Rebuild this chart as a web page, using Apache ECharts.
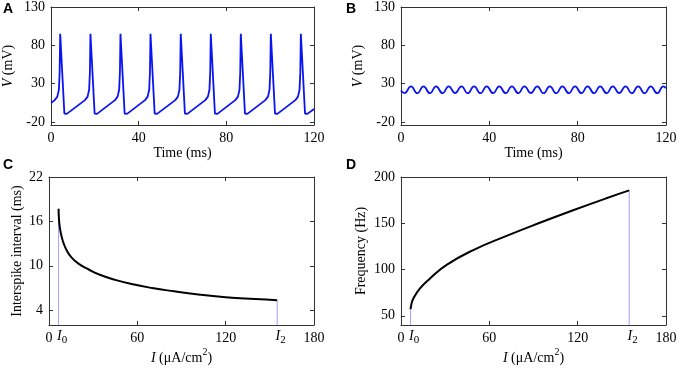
<!DOCTYPE html>
<html>
<head>
<meta charset="utf-8">
<script src="https://cdn.jsdelivr.net/npm/echarts@6/dist/echarts.min.js"></script>
<style>
  html, body { margin: 0; padding: 0; background: #fff; }
  #chart { width: 680px; height: 369px; }
</style>
</head>
<body>
<div id="chart"></div>
<script>
// ====== A: repetitive spiking, [time (ms), V (mV)] ======
const spikeTrace = [
  [0, 4.7], [1.7, 8.5], [2.9, 13], [3.6, 22], [3.95, 45], [4.2, 95], [6.1, -9], [6.6, -10], [7.2, -9.5],
  [15.5, 8.5], [16.7, 13], [17.4, 22], [17.75, 45], [18.0, 95], [19.9, -9], [20.4, -10], [21.0, -9.5],
  [29.2, 8.5], [30.4, 13], [31.1, 22], [31.45, 45], [31.7, 95], [33.6, -9], [34.1, -10], [34.7, -9.5],
  [42.9, 8.5], [44.1, 13], [44.8, 22], [45.15, 45], [45.4, 95], [47.3, -9], [47.8, -10], [48.4, -9.5],
  [56.7, 8.5], [57.9, 13], [58.6, 22], [58.95, 45], [59.2, 95], [61.1, -9], [61.6, -10], [62.2, -9.5],
  [70.4, 8.5], [71.6, 13], [72.3, 22], [72.65, 45], [72.9, 95], [74.8, -9], [75.3, -10], [75.9, -9.5],
  [84.1, 8.5], [85.3, 13], [86.0, 22], [86.35, 45], [86.6, 95], [88.5, -9], [89.0, -10], [89.6, -9.5],
  [97.8, 8.5], [99.0, 13], [99.7, 22], [100.05, 45], [100.3, 95], [102.2, -9], [102.7, -10], [103.3, -9.5],
  [111.5, 8.5], [112.7, 13], [113.4, 22], [113.75, 45], [114.0, 95], [115.9, -9], [116.4, -10], [117.0, -9.5],
  [120, -3]
];

// ====== B: small subthreshold oscillation (peaks / troughs) ======
const oscTrace = [
  [0, 21], [1.6, 17.5], [4.5, 26.5], [7.4, 17.5], [10.2, 26.5], [13.1, 17.5], [15.9, 26.5],
  [18.8, 17.5], [21.6, 26.5], [24.5, 17.5], [27.4, 26.5], [30.2, 17.5], [33.1, 26.5],
  [36.0, 17.5], [38.8, 26.5], [41.7, 17.5], [44.5, 26.5], [47.4, 17.5], [50.2, 26.5],
  [53.1, 17.5], [55.9, 26.5], [58.8, 17.5], [61.7, 26.5], [64.5, 17.5], [67.4, 26.5],
  [70.3, 17.5], [73.1, 26.5], [76.0, 17.5], [78.8, 26.5], [81.7, 17.5], [84.5, 26.5],
  [87.4, 17.5], [90.2, 26.5], [93.1, 17.5], [95.9, 26.5], [98.8, 17.5], [101.7, 26.5],
  [104.5, 17.5], [107.4, 26.5], [110.3, 17.5], [113.1, 26.5], [116.0, 17.5], [118.8, 26.5],
  [120, 24]
];

// ====== C: interspike interval vs current ======
const isiCurrent = [6.5, 6.8, 7.5, 8.5, 10, 12, 15, 20, 27, 35, 45, 57, 70, 85, 100, 120, 140, 155];
const isiValues  = [17.7, 16.2, 15.0, 14.0, 13.0, 12.1, 11.2, 10.3, 9.5, 8.75, 8.1, 7.5, 7.0, 6.55, 6.15, 5.75, 5.5, 5.35];

// ====== D: frequency vs current ======
const freqCurrent = [6.5, 7.0, 8.4, 12.9, 19.7, 31, 49.1, 71.7, 94.3, 116.9, 139.5, 155];
const freqValues  = [57, 62, 68.7, 79.5, 90.3, 105, 121, 136.3, 150.5, 164, 177, 185.5];

const I0 = 6.5, I2 = 155;

// tick labels
const timeTicks = [0, 40, 80, 120];
const voltTicks = [-20, 30, 80, 130];
const currentTicks = [0, 60, 120, 180];
const boundaryTicks = [I0, I2];
const isiTicks = [4, 10, 16, 22];
const freqTicks = [50, 100, 150, 200];

const font = "Liberation Serif";
const axisColor = "#333";
const rich = {
  it: { fontStyle: "italic", fontFamily: font, fontSize: 14, color: "#000", lineHeight: 22 },
  itl: { fontStyle: "italic", fontFamily: font, fontSize: 14, color: "#000", lineHeight: 20, padding: [0, 0, 0, 7] },
  sub: { fontFamily: font, fontSize: 11, color: "#000", verticalAlign: "bottom", lineHeight: 11 },
  sup: { fontFamily: font, fontSize: 10, color: "#000", verticalAlign: "top", lineHeight: 10 },
};

function boxAxes(dim, grid, min, max, ticks, main) {
  const base = {
    gridIndex: grid, type: "value", min, max,
    axisLine: { show: true, onZero: false, lineStyle: { color: axisColor, width: 1 } },
    axisTick: { show: true, inside: true, length: 4, customValues: ticks, lineStyle: { color: axisColor } },
    splitLine: { show: false },
  };
  const first = Object.assign({}, base, {
    position: dim === "x" ? "bottom" : "left",
    nameLocation: "middle",
    nameTextStyle: { fontFamily: font, fontSize: 14, color: "#000", rich },
    axisLabel: { customValues: ticks, margin: 6, color: "#000", fontFamily: font, fontSize: 14 },
  }, main);
  const mirror = Object.assign({}, base, { position: dim === "x" ? "top" : "right", axisLabel: { show: false } });
  return [first, mirror];
}

// extra label-only axis for the I0 / I2 marks
function boundaryAxis(grid) {
  return {
    gridIndex: grid, type: "value", min: 0, max: 180, position: "bottom",
    axisLine: { show: false }, axisTick: { show: false }, splitLine: { show: false },
    axisLabel: {
      customValues: boundaryTicks, margin: 1, rich,
      formatter: (v) => "{itl|I}{sub|" + (v === I0 ? 0 : 2) + "}",
    },
  };
}

const chart = echarts.init(document.getElementById("chart"));

const grids = [
  { left: 49, top: 7, width: 265, height: 118 },
  { left: 401, top: 7, width: 265, height: 118 },
  { left: 49, top: 177, width: 265, height: 148 },
  { left: 401, top: 177, width: 265, height: 148 },
];

const markerStyle = { color: "#a0a0ff", width: 1 };
const letterFont = "bold 14px 'Liberation Sans'";
const currentName = "{it|I} (μA/cm{sup|2})";

chart.setOption({
  animation: false,
  grid: grids,
  xAxis: [
    ...boxAxes("x", 0, 0, 120, timeTicks, { name: "Time (ms)", nameGap: 17 }),
    ...boxAxes("x", 1, 0, 120, timeTicks, { name: "Time (ms)", nameGap: 17 }),
    ...boxAxes("x", 2, 0, 180, currentTicks, { name: currentName, nameGap: 22 }),
    ...boxAxes("x", 3, 0, 180, currentTicks, { name: currentName, nameGap: 22 }),
    boundaryAxis(2),
    boundaryAxis(3),
  ],
  yAxis: [
    ...boxAxes("y", 0, -24, 130, voltTicks, { name: "{it|V} (mV)", nameGap: 32 }),
    ...boxAxes("y", 1, -24, 130, voltTicks, { name: "{it|V} (mV)", nameGap: 32 }),
    ...boxAxes("y", 2, 2, 22, isiTicks, { name: "Interspike interval (ms)", nameGap: 25 }),
    ...boxAxes("y", 3, 40, 200, freqTicks, { name: "Frequency (Hz)", nameGap: 33 }),
  ],
  graphic: [
    { type: "text", left: 3, top: 2, style: { text: "A", font: letterFont, fill: "#000" } },
    { type: "text", left: 346, top: 2, style: { text: "B", font: letterFont, fill: "#000" } },
    { type: "text", left: 3, top: 158, style: { text: "C", font: letterFont, fill: "#000" } },
    { type: "text", left: 346, top: 158, style: { text: "D", font: letterFont, fill: "#000" } },
  ],
  series: [
    {
      type: "line", xAxisIndex: 0, yAxisIndex: 0, data: spikeTrace,
      showSymbol: false, lineStyle: { color: "#0a14f0", width: 1.8 },
    },
    {
      type: "line", xAxisIndex: 2, yAxisIndex: 2, data: oscTrace, smooth: true,
      showSymbol: false, lineStyle: { color: "#0a14f0", width: 1.8 },
    },
    {
      type: "line", xAxisIndex: 4, yAxisIndex: 4, data: [[I0, 2], [I0, isiValues[0]]],
      showSymbol: false, lineStyle: markerStyle,
    },
    {
      type: "line", xAxisIndex: 4, yAxisIndex: 4, data: [[I2, 2], [I2, isiValues[isiValues.length - 1]]],
      showSymbol: false, lineStyle: markerStyle,
    },
    {
      type: "line", xAxisIndex: 4, yAxisIndex: 4,
      data: isiCurrent.map((c, i) => [c, isiValues[i]]),
      smooth: 0.5, showSymbol: false, lineStyle: { color: "#000", width: 2 },
    },
    {
      type: "line", xAxisIndex: 6, yAxisIndex: 6, data: [[I0, 40], [I0, freqValues[0]]],
      showSymbol: false, lineStyle: markerStyle,
    },
    {
      type: "line", xAxisIndex: 6, yAxisIndex: 6, data: [[I2, 40], [I2, freqValues[freqValues.length - 1]]],
      showSymbol: false, lineStyle: markerStyle,
    },
    {
      type: "line", xAxisIndex: 6, yAxisIndex: 6,
      data: freqCurrent.map((c, i) => [c, freqValues[i]]),
      smooth: 0.5, showSymbol: false, lineStyle: { color: "#000", width: 2 },
    },
  ],
});
</script>
</body>
</html>
